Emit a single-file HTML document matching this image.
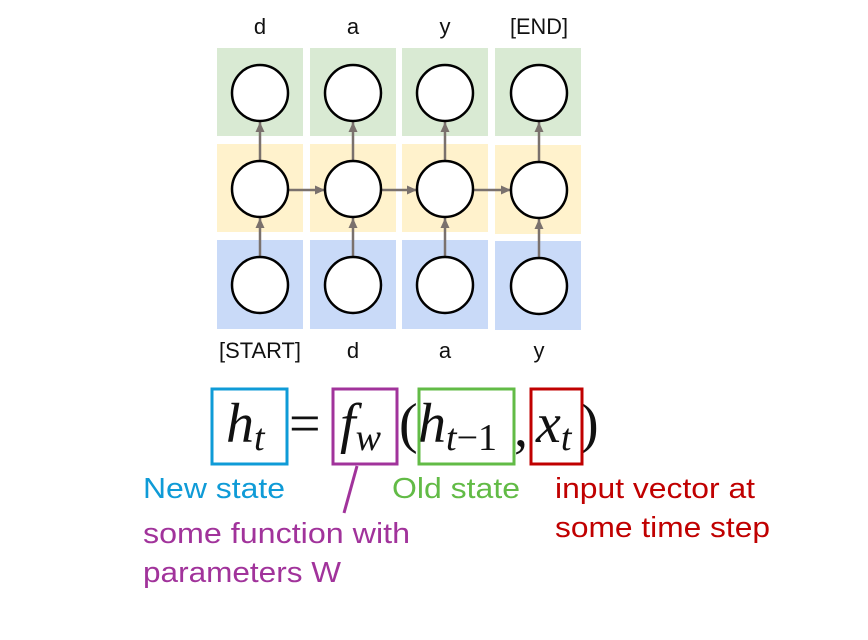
<!DOCTYPE html>
<html><head><meta charset="utf-8"><style>
html,body{margin:0;padding:0;background:#fff}
svg{display:block}
.lbl{font-family:"Liberation Sans",sans-serif;font-size:22px;fill:#111;text-anchor:middle}
.math{font-family:"Liberation Serif",serif;font-style:italic;fill:#111}
.up{font-family:"Liberation Serif",serif;fill:#111}
.ann{font-family:"Liberation Sans",sans-serif;font-size:29px}
</style></head><body>
<svg width="868" height="640" viewBox="0 0 868 640">
<defs><marker id="ar" markerUnits="userSpaceOnUse" markerWidth="12" markerHeight="12" refX="10" refY="6" orient="auto"><path d="M0,1.5L10,6L0,10.5z" fill="#7a716d"/></marker></defs>
<g>
<g>
<rect x="217" y="48" width="86" height="88" fill="#d9ead3"/><rect x="217" y="144" width="86" height="88" fill="#fff2cc"/><rect x="217" y="240" width="86" height="89" fill="#c9daf8"/>
</g>
<g>
<rect x="310" y="48" width="86" height="88" fill="#d9ead3"/><rect x="310" y="144" width="86" height="88" fill="#fff2cc"/><rect x="310" y="240" width="86" height="89" fill="#c9daf8"/>
</g>
<g>
<rect x="402" y="48" width="86" height="88" fill="#d9ead3"/><rect x="402" y="144" width="86" height="88" fill="#fff2cc"/><rect x="402" y="240" width="86" height="89" fill="#c9daf8"/>
</g>
<g>
<rect x="495" y="48" width="86" height="88" fill="#d9ead3"/><rect x="495" y="145" width="86" height="89" fill="#fff2cc"/><rect x="495" y="241" width="86" height="89" fill="#c9daf8"/>
</g>
<g stroke="#7a716d" stroke-width="2.5" marker-end="url(#ar)">
<line x1="260" y1="257" x2="260" y2="218"/><line x1="353" y1="257" x2="353" y2="218"/><line x1="445" y1="257" x2="445" y2="218"/><line x1="539" y1="258" x2="539" y2="219"/>
<line x1="260" y1="161" x2="260" y2="122"/><line x1="353" y1="161" x2="353" y2="122"/><line x1="445" y1="161" x2="445" y2="122"/><line x1="539" y1="162" x2="539" y2="122"/>
<line x1="288" y1="190" x2="325" y2="190"/><line x1="381" y1="190" x2="417" y2="190"/><line x1="473" y1="190" x2="511" y2="190"/>
</g>
<g fill="#fff" stroke="#000" stroke-width="2.5">
<circle cx="260" cy="93" r="28"/><circle cx="353" cy="93" r="28"/><circle cx="445" cy="93" r="28"/><circle cx="539" cy="93" r="28"/>
<circle cx="260" cy="189" r="28"/><circle cx="353" cy="189" r="28"/><circle cx="445" cy="189" r="28"/><circle cx="539" cy="190" r="28"/>
<circle cx="260" cy="285" r="28"/><circle cx="353" cy="285" r="28"/><circle cx="445" cy="285" r="28"/><circle cx="539" cy="286" r="28"/>
</g>
<g>
<text class="lbl" x="260" y="34">d</text><text class="lbl" x="353" y="34">a</text><text class="lbl" x="445" y="34">y</text><text class="lbl" x="539" y="34" textLength="58" lengthAdjust="spacingAndGlyphs">[END]</text>
</g>
<g>
<text class="lbl" x="260" y="358" textLength="82" lengthAdjust="spacingAndGlyphs">[START]</text><text class="lbl" x="353" y="358">d</text><text class="lbl" x="445" y="358">a</text><text class="lbl" x="539" y="358">y</text>
</g>
</g>
<g>
<text class="math" x="226" y="442" font-size="56">h<tspan font-size="38" dy="8">t</tspan></text>
<text class="up" x="289" y="442" font-size="56">=</text>
<text class="math" x="340" y="442" font-size="56">f<tspan font-size="38" dy="8">w</tspan></text>
<text class="up" x="399" y="442" font-size="56">(</text>
<text class="math" x="418" y="442" font-size="56">h<tspan font-size="38" dy="8">t</tspan><tspan class="up" font-style="normal" font-size="38">−1</tspan></text>
<text class="up" x="514" y="446" font-size="56">,</text>
<text class="math" x="536" y="442" font-size="56">x<tspan font-size="38" dy="8">t</tspan></text>
<text class="up" x="580" y="442" font-size="56">)</text>
<rect x="212" y="389" width="75" height="75" fill="none" stroke="#0f9bd7" stroke-width="3"/>
<rect x="333" y="389" width="64" height="75" fill="none" stroke="#a1339b" stroke-width="3"/>
<rect x="419" y="389" width="95" height="75" fill="none" stroke="#62bb46" stroke-width="3"/>
<rect x="531" y="389" width="51" height="75" fill="none" stroke="#c00000" stroke-width="3"/>
<line x1="357" y1="466" x2="344" y2="513" stroke="#a1339b" stroke-width="3"/>
</g>
<text class="ann" x="143" y="498" fill="#0f9bd7" textLength="142" lengthAdjust="spacingAndGlyphs">New state</text>
<text class="ann" x="392" y="498" fill="#62bb46" textLength="128" lengthAdjust="spacingAndGlyphs">Old state</text>
<text class="ann" x="555" y="498" fill="#c00000" textLength="200" lengthAdjust="spacingAndGlyphs">input vector at</text>
<text class="ann" x="555" y="537" fill="#c00000" textLength="215" lengthAdjust="spacingAndGlyphs">some time step</text>
<text class="ann" x="143" y="543" fill="#a1339b" textLength="267" lengthAdjust="spacingAndGlyphs">some function with</text>
<text class="ann" x="143" y="582" fill="#a1339b" textLength="198" lengthAdjust="spacingAndGlyphs">parameters W</text>
</svg>
</body></html>
